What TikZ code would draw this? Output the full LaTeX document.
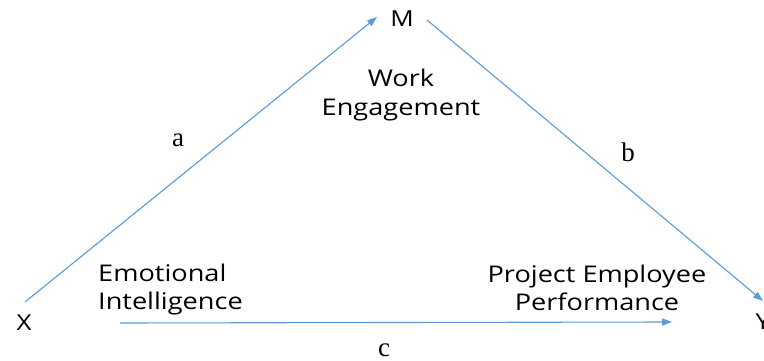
\documentclass[tikz,border=0pt]{standalone}
\usepackage{fontspec}
\setmainfont{Open Sans}[FakeStretch=1.18]
\newfontfamily\serifl{Liberation Serif}
\usetikzlibrary{arrows.meta}
\definecolor{lineblue}{HTML}{5B9BD5}
\begin{document}
\begin{tikzpicture}[x=1pt,y=-1pt,
  arr/.style={draw=lineblue,line width=1.1pt,-{Triangle[length=10pt,width=7pt]}},
  var/.style={inner sep=0pt,font=\fontsize{22}{22}\selectfont},
  lbl/.style={inner sep=0pt,font=\fontsize{23}{28}\selectfont},
  pth/.style={inner sep=0pt,font=\serifl\fontsize{27}{27}\selectfont}]
\useasboundingbox[fill=white] (0,0) rectangle (764,361);
\node[var] (X) at (24,323) {X};
\node[var] (M) at (402,19) {M};
\node[var] (Y) at (763,322) {Y};
\node[lbl,align=center,font=\fontsize{23}{29}\selectfont] (WE) at (401,95) {Work\\Engagement};
\node[lbl,align=left,anchor=west] (EI) at (98,290) {Emotional\\Intelligence};
\node[lbl,align=center] (PEP) at (597,288) {Project Employee\\Performance};
\node[pth] (a) at (178,140) {a};
\node[pth] (b) at (628,152) {b};
\node[pth] (c) at (384,350) {c};
\draw[arr] ([shift={(1,-21)}]X.center) -- ([shift={(-25,-2)}]M.center);
\draw[arr] ([shift={(25,1)}]M.center) -- ([shift={(0,-21)}]Y.center);
\draw[arr] ([shift={(96,0)}]X.center) -- ([shift={(-91,0)}]Y.center);
\end{tikzpicture}
\end{document}
